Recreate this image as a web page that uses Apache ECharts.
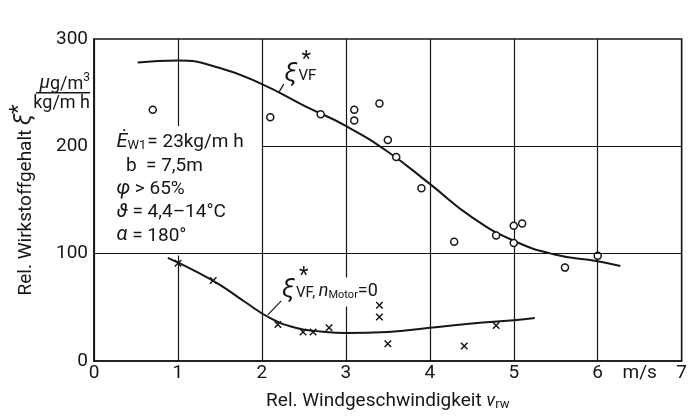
<!DOCTYPE html>
<html><head><meta charset="utf-8">
<script src="https://cdn.jsdelivr.net/npm/echarts@6/dist/echarts.min.js"></script>
<style>html,body{margin:0;padding:0;background:#fff}#c{width:690px;height:416px}</style>
</head><body><div id="c"></div>
<script>
// ---- data ----
const xTicks = [0, 1, 2, 3, 4, 5, 6, 6.5, 7];
const xTickLabels = ['0', '1', '2', '3', '4', '5', '6', 'm/s', '7'];
const yTicks = [0, 100, 200, 300];

// measured points ξ*_VF (circles)
const circX = [0.81, 0.70, 2.10, 2.70, 3.10, 3.10, 3.40, 3.50, 3.60, 3.90, 4.29, 4.79, 5.00, 5.10, 5.00, 5.61, 6.00];
const circY = [320, 234, 227, 230, 234, 224, 240, 206, 190, 161, 111, 117, 126, 128, 110, 87, 98];

// measured points ξ*_VF, n_Motor = 0 (crosses)
const crossX = [1.00, 1.42, 2.19, 2.49, 2.61, 2.80, 3.40, 3.40, 3.50, 4.41, 4.79];
const crossY = [91, 75, 34, 27, 27, 31, 52, 41, 16, 14, 33];

// fitted curve ξ*_VF
const curveVFX = [0.52, 1.0, 1.5, 2.0, 2.5, 3.0, 3.5, 4.0, 4.5, 5.0, 5.5, 6.0, 6.27];
const curveVFY = [278, 280, 273, 258, 238, 219, 195, 165, 134, 112, 99, 93, 88.5];

// fitted curve ξ*_VF, n_Motor = 0
const curveMotorX = [0.88, 1.2, 1.5, 1.8, 2.1, 2.4, 2.7, 3.0, 3.5, 4.0, 4.5, 5.0, 5.25];
const curveMotorY = [96, 84, 71, 55, 40, 31, 27.5, 26, 27, 31, 35, 38, 40];

// partial grid line at y = 200 (from x = 2 to 7)
const grid200 = [[2, 200], [7, 200]];

// ---- styling ----
const FONT = 'Roboto';
const INK = '#161616';
const zip = (a, b) => a.map((v, i) => [v, b[i]]);

const chart = echarts.init(document.getElementById('c'), null, { renderer: 'canvas' });

chart.setOption({
  animation: false,
  backgroundColor: '#fff',
  grid: { left: 92, right: 4, top: 39, bottom: 52, show: true, borderColor: INK, borderWidth: 1.5, backgroundColor: 'transparent' },
  xAxis: {
    type: 'value', min: 0, max: 7, interval: 1,
    axisLine: { show: true, lineStyle: { color: INK, width: 1.5 } },
    axisTick: { show: false },
    splitLine: { show: true, lineStyle: { color: INK, width: 1.2 } },
    axisLabel: {
      customValues: xTicks,
      formatter: v => xTickLabels[xTicks.indexOf(v)] ?? '',
      color: INK, fontFamily: FONT, fontSize: 19, margin: 3
    },
    name: '{a|Rel. Windgeschwindigkeit }{v|v}{s|rw}',
    nameLocation: 'middle', nameGap: 26,
    nameTextStyle: {
      color: INK, fontFamily: FONT, fontSize: 19,
      rich: {
        a: { fontFamily: FONT, fontSize: 19, color: INK, lineHeight: 24, verticalAlign: 'bottom' },
        v: { fontFamily: FONT, fontSize: 19, fontStyle: 'italic', color: INK, lineHeight: 24, verticalAlign: 'bottom' },
        s: { fontFamily: FONT, fontSize: 13, color: INK, lineHeight: 24, verticalAlign: 'bottom' }
      }
    }
  },
  yAxis: {
    type: 'value', min: 0, max: 300, interval: 100,
    axisLine: { show: true, lineStyle: { color: INK, width: 1.5 } },
    axisTick: { show: false },
    splitLine: { show: false },
    axisLabel: { color: INK, fontFamily: FONT, fontSize: 19, margin: 6 },
    name: '{a|Rel. Wirkstoffgehalt }{x|ξ}{s|*}',
    nameLocation: 'middle', nameGap: 58,
    nameTextStyle: {
      color: INK, fontFamily: FONT, fontSize: 19,
      rich: {
        a: { fontFamily: FONT, fontSize: 19, color: INK, lineHeight: 28, verticalAlign: 'bottom' },
        x: { fontFamily: FONT, fontSize: 23, fontStyle: 'italic', color: INK, lineHeight: 28, verticalAlign: 'bottom' },
        s: { fontFamily: FONT, fontSize: 22, color: INK, lineHeight: 28, verticalAlign: 'top' }
      }
    }
  },
  series: [
    {
      name: 'ξ*VF curve', type: 'line', data: zip(curveVFX, curveVFY),
      smooth: 0.5, showSymbol: false, symbol: 'none',
      lineStyle: { color: INK, width: 2 }, z: 3,
      markLine: {
        silent: true, symbol: 'none', label: { show: false },
        lineStyle: { color: INK, width: 1.2, type: 'solid' },
        data: [
          { yAxis: 100 },
          [{ coord: grid200[0] }, { coord: grid200[1] }]
        ]
      }
    },
    {
      name: 'ξ*VF nMotor=0 curve', type: 'line', data: zip(curveMotorX, curveMotorY),
      smooth: 0.5, showSymbol: false, symbol: 'none',
      lineStyle: { color: INK, width: 2 }, z: 3
    },
    {
      name: 'ξ*VF', type: 'scatter', data: zip(circX, circY),
      symbol: 'circle', symbolSize: 7,
      itemStyle: { color: '#fff', borderColor: INK, borderWidth: 1.5, opacity: 1 }, z: 4
    },
    {
      name: 'ξ*VF nMotor=0', type: 'scatter', data: zip(crossX, crossY),
      symbol: 'path://M0,0L10,10M10,0L0,10', symbolSize: 6.5,
      itemStyle: { color: 'transparent', borderColor: INK, borderWidth: 1.5, opacity: 1 }, z: 4
    }
  ]
});

// ---- annotations anchored to data coordinates ----
const P = (x, y) => chart.convertToPixel({ gridIndex: 0 }, [x, y]);
const o = P(0, 0);
const fracY = P(0, 250)[1];
const boxP = P(0.22, 219);
const upLab = P(2.27, 268);
const upLeadA = P(2.20, 250), upLeadB = P(2.26, 258);
const loLab = P(2.24, 67);
const loLeadA = P(2.07, 43), loLeadB = P(2.23, 56);

const txt = (x, y, text, extra) => ({
  type: 'text', x, y, z: 10,
  style: Object.assign({ text, fill: INK, font: '18px ' + FONT, align: 'left', verticalAlign: 'middle' }, extra || {})
});

chart.setOption({
  graphic: [
    // unit fraction next to the y axis
    txt(o[0] - 4, fracY - 10, '{m|μ}{t|g/m}{p|3}', {
      align: 'right', verticalAlign: 'middle',
      rich: {
        m: { fontFamily: FONT, fontSize: 19, fontStyle: 'italic', fill: INK, verticalAlign: 'bottom', lineHeight: 21 },
        t: { fontFamily: FONT, fontSize: 18, fill: INK, verticalAlign: 'bottom', lineHeight: 21 },
        p: { fontFamily: FONT, fontSize: 12, fill: INK, verticalAlign: 'top', lineHeight: 21 }
      }
    }),
    { type: 'line', z: 10, shape: { x1: o[0] - 58, y1: fracY, x2: o[0] - 4, y2: fracY }, style: { stroke: INK, lineWidth: 1.5 } },
    txt(o[0] - 4, fracY + 11, 'kg/m h', { align: 'right' }),

    // parameter block
    {
      type: 'text', x: boxP[0], y: boxP[1], z: 1,
      style: {
        text: '{E|Ė}{s|W1}{t|= 23kg/m h}\n{t|  b  = 7,5m}\n{g|φ}{t| > 65%}\n{g|ϑ}{t| = 4,4–14°C}\n{g|α}{t| = 180°}',
        fill: INK, font: '19px ' + FONT, align: 'left', verticalAlign: 'top',
        backgroundColor: '#fff', padding: [3, 6, 10, 4],
        rich: {
          E: { fontFamily: FONT, fontSize: 20, fontStyle: 'italic', fill: INK, lineHeight: 23.3, verticalAlign: 'bottom' },
          s: { fontFamily: FONT, fontSize: 13, fill: INK, lineHeight: 23.3, verticalAlign: 'bottom', padding: [0, 1, 0, 0] },
          t: { fontFamily: FONT, fontSize: 19, fill: INK, lineHeight: 23.3, verticalAlign: 'bottom' },
          g: { fontFamily: FONT, fontSize: 20, fontStyle: 'italic', fill: INK, lineHeight: 23.3, verticalAlign: 'bottom' }
        }
      }
    },

    // label ξ*_VF on upper curve
    { type: 'line', z: 10, shape: { x1: upLeadA[0], y1: upLeadA[1], x2: upLeadB[0], y2: upLeadB[1] }, style: { stroke: INK, lineWidth: 1.2 } },
    txt(upLab[0], upLab[1], 'ξ', { font: 'italic 26px ' + FONT }),
    txt(upLab[0] + 17, upLab[1] - 13, '*', { font: '22px ' + FONT }),
    txt(upLab[0] + 14, upLab[1] + 3, 'VF', { font: '15px ' + FONT }),

    // label ξ*_VF, n_Motor = 0 on lower curve
    { type: 'line', z: 10, shape: { x1: loLeadA[0], y1: loLeadA[1], x2: loLeadB[0], y2: loLeadB[1] }, style: { stroke: INK, lineWidth: 1.2 } },
    txt(loLab[0], loLab[1], 'ξ', { font: 'italic 26px ' + FONT }),
    txt(loLab[0] + 17, loLab[1] - 13, '*', { font: '22px ' + FONT }),
    {
      type: 'text', x: loLab[0] + 14, y: loLab[1] + 3, z: 1,
      style: {
        text: '{v|VF, }{n|n}{m|Motor}{e|=0}',
        fill: INK, align: 'left', verticalAlign: 'middle',
        backgroundColor: '#fff', padding: [2, 1, 6, 0],
        rich: {
          v: { fontFamily: FONT, fontSize: 15, fill: INK, lineHeight: 21, verticalAlign: 'bottom' },
          n: { fontFamily: FONT, fontSize: 18, fontStyle: 'italic', fill: INK, lineHeight: 21, verticalAlign: 'bottom' },
          m: { fontFamily: FONT, fontSize: 11, fill: INK, lineHeight: 21, verticalAlign: 'bottom' },
          e: { fontFamily: FONT, fontSize: 18, fill: INK, lineHeight: 21, verticalAlign: 'bottom' }
        }
      }
    }
  ]
});
</script>
</body></html>
